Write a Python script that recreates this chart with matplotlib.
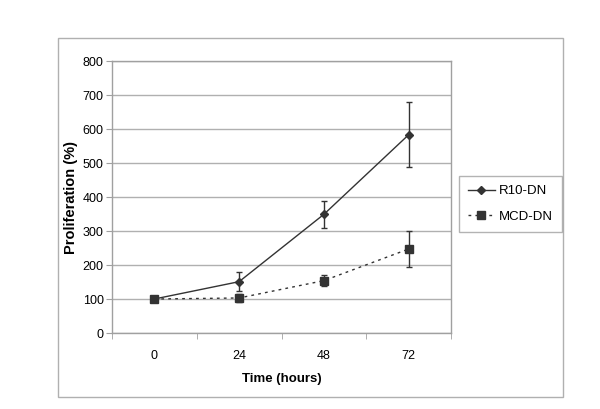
import matplotlib
matplotlib.use("Agg")
import matplotlib.pyplot as plt
from matplotlib.patches import Rectangle
import numpy as np

plt.rcParams['font.family'] = ['Liberation Sans', 'DejaVu Sans']

categories = ["0", "24", "48", "72"]
r10_values = [100, 151, 349, 583]
r10_err = [5, 27, 39, 96]
mcd_values = [100, 103, 154, 247]
mcd_err = [5, 13, 17, 53]
y_ticks = [0, 100, 200, 300, 400, 500, 600, 700, 800]

fig = plt.figure(figsize=(6.0, 4.09), dpi=100)
fig.patches.append(Rectangle((58/600, 1-397/409), (563-58)/600, (397-38)/409,
                             transform=fig.transFigure, fill=False,
                             edgecolor='#b0b0b0', linewidth=1.0))

ax = fig.add_axes([112/600, 1-333/409, (451-112)/600, (333-61)/409])
x = np.arange(len(categories))
c1 = ax.errorbar(x, r10_values, yerr=r10_err, color='#333333', linestyle='-', linewidth=1.0,
                 marker='D', markersize=4, capsize=2.5, elinewidth=1.0, capthick=1.0,
                 label='R10-DN', zorder=3)
c2 = ax.errorbar(x, mcd_values, yerr=mcd_err, color='#333333', linestyle=(0, (2, 3)), linewidth=1.0,
                 marker='s', markersize=6, capsize=2.5, elinewidth=1.0, capthick=1.0,
                 label='MCD-DN', zorder=3)

ax.set_xlim(-0.5, len(categories) - 0.5)
ax.set_ylim(0, 800)
ax.set_yticks(y_ticks)
ax.set_xticks(x)
ax.set_xticklabels(categories)
ax.set_xticks(np.arange(-0.5, len(categories)), minor=True)
ax.tick_params(axis='x', which='major', length=0, pad=12, labelsize=9)
ax.tick_params(axis='x', which='minor', length=4, color='#a0a0a0', direction='out')
ax.tick_params(axis='y', length=4, color='#a0a0a0', labelsize=9, pad=2)
ax.yaxis.grid(True, color='#b0b0b0', linewidth=1.0)
ax.set_axisbelow(True)
for s in ax.spines.values():
    s.set_color('#a0a0a0')
    s.set_linewidth(1.0)

ax.set_xlabel('Time (hours)', fontsize=9.5, fontweight='bold', labelpad=8)
ax.set_ylabel('Proliferation (%)', fontsize=10.5, fontweight='bold', labelpad=3)

leg = fig.legend(handles=[c1.lines[0], c2.lines[0]], labels=['R10-DN', 'MCD-DN'],
                 loc='upper left', bbox_to_anchor=(459/600, 1-176/409),
                 bbox_transform=fig.transFigure, frameon=True, fancybox=False,
                 fontsize=9.5, handlelength=2.0, borderpad=0.7, labelspacing=1.0,
                 handletextpad=0.35, borderaxespad=0)
leg.get_frame().set_edgecolor('#a0a0a0')
leg.get_frame().set_linewidth(1.0)

fig.savefig('out.png', dpi=100)
